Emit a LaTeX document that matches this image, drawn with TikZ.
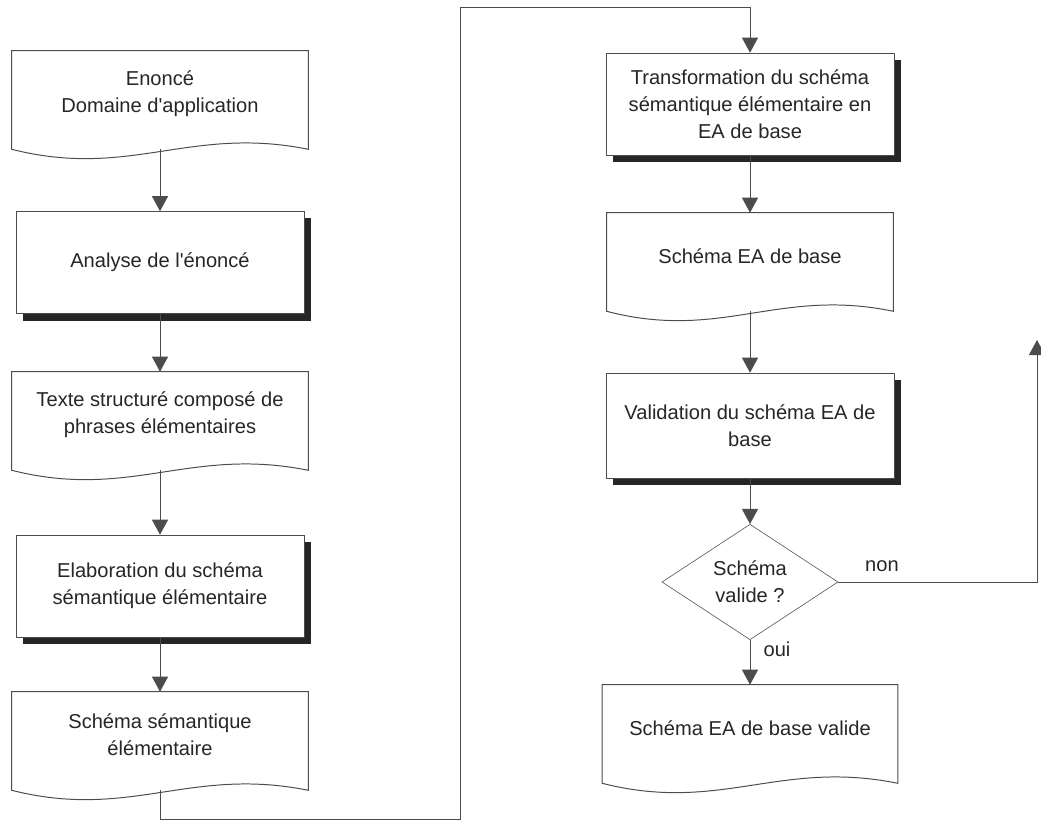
\documentclass[tikz,border=0pt]{standalone}
\usepackage{fontspec}
\setmainfont{Liberation Sans}
\usetikzlibrary{arrows.meta,shapes.geometric,shadows,calc}
\tikzset{
  box/.style={draw=black!70, fill=white, minimum width=7.2cm, minimum height=2.55cm, align=center, text=black!85,
    drop shadow={shadow xshift=0.175cm, shadow yshift=-0.175cm, opacity=1, fill=black!85}},
  doc/.style={minimum width=7.4cm, minimum height=2.15cm, align=center, text=black!85},
  decision/.style={diamond, draw=black!70, minimum width=4.4cm, minimum height=2.825cm, inner sep=0pt, align=center, text=black!85},
  flow/.style={draw=black!70, line width=0.7pt, -{Triangle[width=0.4cm,length=0.375cm]}},
}
% outline of a document symbol, wavy bottom below the node
\newcommand{\docoutline}[1]{%
  \draw[black!70, line width=0.7pt] (#1.north west) -- (#1.north east) -- ([yshift=-0.3cm]#1.south east)
    .. controls ($([yshift=-0.3cm]#1.south east)!0.4!([yshift=-0.3cm]#1.south west)+(0,-24)$)
    and ($([yshift=-0.3cm]#1.south west)!0.4!([yshift=-0.3cm]#1.south east)+(0,30)$)
    .. ([yshift=-0.3cm]#1.south west) -- cycle;
  \coordinate (#1-end) at ([yshift=-0.3cm]#1.south);}

\begin{document}
\begin{tikzpicture}[x=0.025cm, y=-0.025cm, font=\fontsize{14.3}{19}\selectfont]
  \useasboundingbox (0,0) rectangle (1041,821);

  % left column
  \node[doc] (enonce) at (160,94) {Enoncé\\Domaine d\textquotesingle application};
  \docoutline{enonce}
  \node[box] (analyse) at (160,262.5) {Analyse de l\textquotesingle énoncé};
  \node[doc] (texte) at (160,415) {Texte structuré composé de\\phrases élémentaires};
  \docoutline{texte}
  \node[box] (elab) at (160,586) {Elaboration du schéma\\sémantique élémentaire};
  \node[doc] (semant) at (160,735) {Schéma sémantique\\élémentaire};
  \docoutline{semant}

  % right column
  \node[box] (transf) at (750,104) {Transformation du schéma\\sémantique élémentaire en\\EA de base};
  \node[doc, minimum width=7.15cm] (schemaea) at (750,256) {Schéma EA de base};
  \docoutline{schemaea}
  \node[box, minimum height=2.625cm] (valid) at (750,425.5) {Validation du schéma EA de\\base};
  \node[decision] (test) at (750,582) {Schéma\\valide ?};
  \node[doc, minimum width=7.375cm] (final) at (750,728) {Schéma EA de base valide};
  \docoutline{final}

  \node[text=black!85] (non) at (882,566) {non};
  \node[text=black!85] (oui) at (777,649) {oui};

  \coordinate (lowturn) at (460,819);
  \coordinate (topturn) at (460,7);
  \coordinate (retour) at (1037,340);

  % arrows
  \draw[flow] (enonce-end) -- (analyse.north);
  \draw[flow] (analyse.south) -- (texte.north);
  \draw[flow] (texte-end) -- (elab.north);
  \draw[flow] (elab.south) -- (semant.north);
  \draw[flow] (semant-end) |- (lowturn) -- (topturn) -| (transf.north);
  \draw[flow] (transf.south) -- (schemaea.north);
  \draw[flow] (schemaea-end) -- (valid.north);
  \draw[flow] (valid.south) -- (test.north);
  \draw[flow] (test.south) -- (final.north);
  \draw[flow] (test.east) -| (retour);
\end{tikzpicture}
\end{document}
